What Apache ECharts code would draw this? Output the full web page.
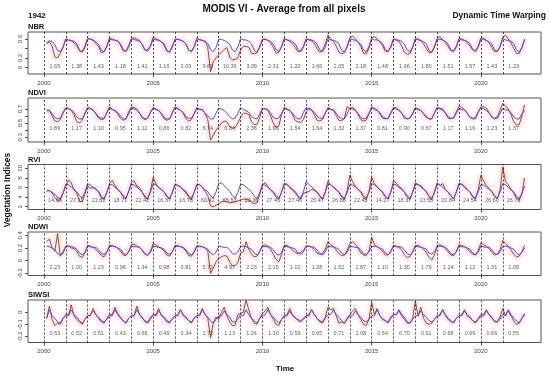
<!DOCTYPE html>
<html><head><meta charset="utf-8">
<script src="https://cdn.jsdelivr.net/npm/echarts@6/dist/echarts.min.js"></script>
<style>html,body{margin:0;padding:0;background:#fff}#c{width:550px;height:379px}</style>
</head><body><div id="c"></div>
<script>
// ---------- data ----------
const panelNames = ['NBR', 'NDVI', 'RVI', 'NDWI', 'SIWSI'];
const years = [2000,2001,2002,2003,2004,2005,2006,2007,2008,2009,2010,2011,2012,2013,2014,2015,2016,2017,2018,2019,2020,2021];
const xTickLabels = [2000, 2005, 2010, 2015, 2020];
// samples every 1/8 year, first at 2000.125
const T0 = 2000.125, STEP = 0.125;

const nbrRef = [
0.52,0.56,0.55,0.48,0.36,0.33,0.43,0.60, 0.58,0.57,0.55,0.50,0.37,0.32,0.42,0.61,
0.59,0.57,0.54,0.49,0.36,0.33,0.43,0.60, 0.58,0.58,0.55,0.50,0.38,0.33,0.42,0.61,
0.59,0.57,0.55,0.49,0.37,0.34,0.44,0.60, 0.58,0.57,0.54,0.50,0.36,0.32,0.42,0.60,
0.59,0.58,0.55,0.49,0.37,0.33,0.43,0.61, 0.58,0.57,0.55,0.50,0.38,0.33,0.42,0.60,
0.59,0.57,0.54,0.49,0.37,0.33,0.43,0.61, 0.58,0.58,0.55,0.50,0.36,0.32,0.42,0.60,
0.59,0.57,0.55,0.49,0.37,0.34,0.43,0.61, 0.58,0.57,0.54,0.50,0.38,0.33,0.42,0.60,
0.59,0.58,0.55,0.49,0.37,0.33,0.43,0.61, 0.58,0.57,0.55,0.50,0.36,0.32,0.42,0.60,
0.59,0.57,0.54,0.49,0.37,0.33,0.44,0.61, 0.58,0.58,0.55,0.50,0.38,0.34,0.42,0.60,
0.59,0.57,0.55,0.49,0.37,0.33,0.43,0.61, 0.58,0.57,0.54,0.50,0.36,0.32,0.42,0.60,
0.59,0.58,0.55,0.49,0.37,0.33,0.43,0.61, 0.58,0.57,0.55,0.50,0.38,0.33,0.42,0.60,
0.59,0.57,0.54,0.49,0.37,0.34,0.43,0.61, 0.58,0.57,0.55,0.50,0.37,0.33,0.42,0.58];
const nbrObs = [
0.50,0.54,0.45,0.22,0.20,0.30,0.42,0.60, 0.57,0.56,0.52,0.46,0.35,0.34,0.45,0.60,
0.60,0.58,0.50,0.44,0.31,0.33,0.45,0.62, 0.60,0.57,0.56,0.47,0.35,0.34,0.46,0.60,
0.63,0.60,0.57,0.48,0.36,0.38,0.46,0.64, 0.60,0.58,0.54,0.47,0.34,0.33,0.45,0.58,
0.60,0.57,0.55,0.50,0.36,0.35,0.44,0.61, 0.59,0.57,0.55,0.42,-0.09,0.12,0.20,0.27,
0.32,0.38,0.42,0.22,0.16,0.17,0.20,0.37, 0.45,0.44,0.43,0.30,0.29,0.31,0.45,0.58,
0.60,0.57,0.52,0.42,0.30,0.32,0.44,0.61, 0.58,0.55,0.50,0.42,0.33,0.35,0.45,0.60,
0.58,0.56,0.50,0.40,0.32,0.36,0.50,0.68, 0.60,0.55,0.45,0.32,0.29,0.31,0.45,0.62,
0.66,0.60,0.54,0.44,0.30,0.29,0.40,0.63, 0.65,0.60,0.54,0.46,0.34,0.33,0.45,0.60,
0.57,0.55,0.45,0.32,0.28,0.29,0.42,0.60, 0.60,0.56,0.50,0.40,0.31,0.32,0.45,0.61,
0.65,0.58,0.52,0.44,0.35,0.36,0.45,0.61, 0.60,0.57,0.52,0.45,0.37,0.36,0.45,0.62,
0.61,0.57,0.52,0.42,0.33,0.34,0.44,0.63, 0.68,0.60,0.52,0.40,0.30,0.29,0.42,0.60];
const nbrDist = [1.65,1.38,1.43,1.18,1.41,1.16,1.09,9.69,10.39,3.09,2.31,1.20,1.66,2.05,2.18,1.48,1.66,1.80,1.51,1.57,1.43,1.23];

const ndviRef = [
0.69,0.68,0.63,0.58,0.56,0.57,0.64,0.71, 0.70,0.69,0.65,0.59,0.56,0.56,0.63,0.71,
0.70,0.68,0.64,0.59,0.57,0.57,0.64,0.72, 0.69,0.68,0.65,0.60,0.56,0.56,0.63,0.71,
0.70,0.69,0.64,0.59,0.56,0.57,0.65,0.71, 0.69,0.68,0.64,0.58,0.56,0.56,0.64,0.72,
0.70,0.68,0.65,0.59,0.57,0.57,0.63,0.71, 0.69,0.69,0.64,0.60,0.56,0.56,0.64,0.71,
0.70,0.68,0.64,0.59,0.56,0.57,0.64,0.72, 0.69,0.68,0.65,0.59,0.57,0.56,0.63,0.71,
0.70,0.69,0.64,0.58,0.56,0.57,0.64,0.71, 0.69,0.68,0.64,0.59,0.56,0.56,0.65,0.72,
0.70,0.68,0.65,0.60,0.57,0.57,0.64,0.71, 0.69,0.69,0.64,0.59,0.56,0.56,0.63,0.71,
0.70,0.68,0.64,0.58,0.56,0.57,0.64,0.72, 0.69,0.68,0.65,0.59,0.57,0.56,0.64,0.71,
0.70,0.69,0.64,0.59,0.56,0.57,0.63,0.71, 0.69,0.68,0.64,0.60,0.56,0.56,0.64,0.72,
0.70,0.68,0.65,0.59,0.57,0.57,0.64,0.71, 0.69,0.69,0.64,0.58,0.56,0.56,0.65,0.72,
0.70,0.68,0.64,0.59,0.56,0.57,0.64,0.71, 0.69,0.68,0.65,0.59,0.56,0.56,0.63,0.68];
const ndviObs = [
0.67,0.68,0.60,0.53,0.52,0.55,0.65,0.72, 0.71,0.68,0.62,0.52,0.50,0.54,0.64,0.72,
0.71,0.69,0.63,0.57,0.55,0.56,0.65,0.73, 0.70,0.67,0.63,0.57,0.54,0.56,0.66,0.73,
0.72,0.70,0.64,0.57,0.55,0.57,0.66,0.72, 0.70,0.68,0.63,0.56,0.54,0.56,0.65,0.73,
0.71,0.68,0.64,0.56,0.53,0.55,0.64,0.72, 0.70,0.69,0.64,0.55,0.26,0.33,0.40,0.45,
0.50,0.53,0.52,0.45,0.43,0.44,0.50,0.58, 0.64,0.64,0.62,0.52,0.48,0.48,0.58,0.70,
0.71,0.68,0.60,0.50,0.44,0.46,0.62,0.72, 0.70,0.68,0.62,0.54,0.52,0.51,0.55,0.66,
0.71,0.69,0.62,0.54,0.53,0.55,0.64,0.72, 0.70,0.68,0.61,0.54,0.53,0.57,0.73,0.71,
0.72,0.69,0.62,0.55,0.53,0.54,0.63,0.73, 0.71,0.69,0.63,0.57,0.56,0.57,0.65,0.72,
0.72,0.68,0.64,0.57,0.56,0.57,0.64,0.72, 0.70,0.68,0.63,0.58,0.56,0.56,0.65,0.72,
0.71,0.70,0.64,0.57,0.56,0.58,0.66,0.74, 0.72,0.69,0.64,0.58,0.57,0.58,0.66,0.73,
0.73,0.71,0.65,0.58,0.57,0.59,0.68,0.78, 0.74,0.70,0.62,0.52,0.47,0.48,0.60,0.76];
const ndviDist = [0.89,1.17,1.10,0.95,1.12,0.86,0.82,6.74,6.04,2.36,1.96,1.54,1.64,1.32,1.37,0.81,0.90,0.67,1.17,1.16,1.23,1.37];

const rviRef = [
5.5,5.3,5.0,4.6,3.9,3.7,4.9,6.7, 6.6,6.1,5.6,5.1,4.3,3.8,5.0,6.8,
6.5,6.0,5.6,5.2,4.2,3.7,4.9,6.6, 6.6,6.1,5.5,5.1,4.3,3.8,5.1,6.7,
6.5,6.1,5.6,5.0,4.2,3.8,5.0,6.8, 6.6,6.0,5.5,5.1,4.3,3.7,4.9,6.6,
6.5,6.1,5.6,5.2,4.2,3.8,5.0,6.7, 6.6,6.1,5.5,5.1,4.3,3.8,5.1,6.8,
7.0,6.4,5.8,5.2,4.3,3.8,5.0,6.7, 6.6,6.1,5.6,5.1,4.2,3.7,4.9,6.6,
6.5,6.0,5.5,5.1,4.3,3.8,5.0,6.8, 6.6,6.1,5.6,5.2,4.2,3.8,5.1,7.2,
6.7,6.1,5.6,5.1,4.3,3.7,5.0,6.7, 6.6,6.0,5.5,5.1,4.2,3.8,4.9,6.6,
6.5,6.1,5.6,5.2,4.3,3.8,5.0,6.8, 6.6,6.1,5.5,5.1,4.2,3.7,5.1,6.7,
6.5,6.0,5.6,5.1,4.3,3.8,5.0,6.6, 6.6,6.1,5.6,5.2,4.2,3.8,4.9,6.8,
6.5,6.1,5.5,5.1,4.3,3.7,5.0,6.7, 6.6,6.0,5.6,5.1,4.2,3.8,5.1,6.6,
6.5,6.1,5.6,5.2,4.3,3.8,5.0,6.8, 6.6,6.1,5.5,5.1,4.2,3.7,4.8,6.3];
const rviObs = [
5.2,5.4,4.8,3.9,3.3,3.4,4.8,6.2, 7.6,7.0,5.5,4.8,3.2,3.0,4.6,6.4,
5.8,6.0,5.8,5.0,3.9,3.5,5.0,6.8, 7.5,6.4,5.7,5.0,4.0,3.6,5.2,7.0,
7.4,6.3,6.0,5.0,3.9,3.5,5.4,8.1, 6.8,6.0,5.6,5.0,4.1,3.6,5.0,6.6,
6.4,6.2,5.4,4.9,4.0,3.4,5.0,6.5, 6.6,6.0,5.2,4.3,2.2,2.0,2.3,2.6,
3.0,3.2,3.0,2.8,2.9,3.0,3.2,3.4, 3.6,3.5,3.4,3.0,2.6,2.8,4.5,6.6,
7.0,6.2,5.5,4.9,4.0,3.6,5.0,6.8, 6.7,6.0,5.4,4.9,4.1,3.6,4.8,5.0,
5.2,5.6,5.4,5.0,4.1,3.5,5.0,7.3, 6.5,6.2,5.6,5.0,4.0,3.5,5.3,8.6,
7.2,6.3,5.7,5.0,3.9,3.4,5.2,8.2, 6.8,6.2,5.6,4.9,4.0,3.6,5.0,7.4,
6.9,6.2,5.8,5.0,4.0,3.5,5.0,7.0, 6.6,6.4,5.7,5.1,4.1,3.4,5.2,7.0,
6.4,6.8,5.6,5.0,4.2,3.6,5.1,6.9, 6.7,6.3,5.6,5.0,4.0,3.6,5.6,8.6,
7.3,6.4,5.8,5.1,4.1,3.7,5.4,10.3, 7.2,6.6,5.6,4.8,3.8,3.3,4.6,8.0];
const rviDist = [14.66,27.11,21.82,18.71,22.42,16.37,16.76,60.42,65.53,23.36,27.45,27.46,25.47,26.86,22.41,14.27,18.37,13.55,20.84,24.54,26.60,26.71];

const ndwiRef = [
0.23,0.22,0.20,0.17,0.11,0.09,0.14,0.23, 0.22,0.22,0.21,0.18,0.12,0.09,0.13,0.23,
0.22,0.21,0.21,0.17,0.11,0.10,0.14,0.22, 0.23,0.22,0.20,0.18,0.12,0.09,0.14,0.23,
0.22,0.22,0.21,0.17,0.11,0.09,0.13,0.23, 0.22,0.21,0.20,0.18,0.12,0.10,0.14,0.22,
0.23,0.22,0.21,0.17,0.11,0.09,0.14,0.23, 0.22,0.22,0.20,0.18,0.12,0.09,0.13,0.23,
0.22,0.21,0.21,0.17,0.11,0.10,0.14,0.22, 0.23,0.22,0.20,0.18,0.12,0.09,0.14,0.23,
0.22,0.22,0.21,0.17,0.11,0.09,0.13,0.23, 0.22,0.21,0.20,0.18,0.12,0.10,0.14,0.22,
0.23,0.22,0.21,0.17,0.11,0.09,0.14,0.23, 0.22,0.22,0.20,0.18,0.12,0.09,0.13,0.23,
0.22,0.21,0.21,0.17,0.11,0.10,0.14,0.22, 0.23,0.22,0.20,0.18,0.12,0.09,0.14,0.23,
0.22,0.22,0.21,0.17,0.11,0.09,0.13,0.23, 0.22,0.21,0.20,0.18,0.12,0.10,0.14,0.22,
0.23,0.22,0.21,0.17,0.11,0.09,0.14,0.23, 0.22,0.22,0.20,0.18,0.12,0.09,0.13,0.23,
0.22,0.21,0.21,0.17,0.11,0.10,0.14,0.22, 0.23,0.22,0.20,0.18,0.12,0.09,0.13,0.20];
const ndwiObs = [
0.30,0.34,0.20,0.15,0.43,0.07,0.12,0.22, 0.24,0.20,0.19,0.15,0.07,0.05,0.12,0.24,
0.23,0.21,0.18,0.13,0.08,0.06,0.13,0.24, 0.24,0.22,0.20,0.15,0.09,0.08,0.14,0.25,
0.26,0.23,0.21,0.16,0.10,0.08,0.15,0.27, 0.25,0.22,0.20,0.15,0.09,0.07,0.14,0.24,
0.24,0.22,0.20,0.15,0.08,0.07,0.13,0.23, 0.23,0.22,0.20,0.15,-0.20,-0.12,-0.02,0.04,
0.06,0.08,0.07,-0.02,-0.08,-0.08,-0.03,0.12, 0.14,0.30,0.18,0.10,0.06,0.07,0.14,0.24,
0.25,0.23,0.18,0.10,0.02,-0.02,0.10,0.24, 0.24,0.21,0.17,0.13,0.11,0.13,0.16,0.23,
0.23,0.21,0.18,0.12,0.10,0.11,0.18,0.30, 0.25,0.22,0.17,0.11,0.08,0.09,0.16,0.27,
0.30,0.26,0.20,0.12,0.09,0.08,0.15,0.37, 0.25,0.22,0.19,0.14,0.09,0.09,0.15,0.24,
0.23,0.21,0.17,0.09,0.05,0.06,0.14,0.24, 0.24,0.22,0.18,0.13,0.05,0.01,0.09,0.24,
0.25,0.23,0.19,0.14,0.09,0.08,0.15,0.25, 0.24,0.22,0.19,0.14,0.10,0.09,0.16,0.28,
0.25,0.23,0.19,0.13,0.09,0.10,0.17,0.32, 0.27,0.23,0.17,0.10,0.06,0.07,0.14,0.24];
const ndwiDist = [2.23,1.00,1.23,0.96,1.34,0.98,0.81,5.72,4.97,2.23,2.15,1.02,1.28,1.52,1.87,1.10,1.30,1.79,1.14,1.12,1.31,1.05];

const siwsiRef = [
-0.05,0.02,-0.03,-0.05,-0.08,-0.09,-0.05,-0.03, -0.03,0.02,-0.02,-0.04,-0.07,-0.09,-0.06,-0.03,
-0.02,0.01,-0.02,-0.04,-0.07,-0.08,-0.06,-0.03, -0.03,0.02,-0.02,-0.05,-0.07,-0.09,-0.05,-0.03,
-0.03,0.02,-0.02,-0.04,-0.08,-0.09,-0.06,-0.02, -0.03,0.01,-0.02,-0.04,-0.07,-0.08,-0.06,-0.03,
-0.02,0.02,-0.03,-0.05,-0.07,-0.09,-0.05,-0.03, -0.03,0.02,-0.02,-0.04,-0.07,-0.09,-0.06,-0.03,
-0.03,0.01,-0.02,-0.04,-0.08,-0.08,-0.06,-0.02, -0.03,0.02,-0.02,-0.05,-0.07,-0.09,-0.05,-0.03,
-0.02,0.02,-0.02,-0.04,-0.07,-0.09,-0.06,-0.03, -0.03,0.01,-0.03,-0.04,-0.07,-0.08,-0.06,-0.03,
-0.03,0.02,-0.02,-0.05,-0.08,-0.09,-0.05,-0.02, -0.02,0.02,-0.02,-0.04,-0.07,-0.09,-0.06,-0.03,
-0.03,0.01,-0.02,-0.04,-0.07,-0.08,-0.06,-0.03, -0.03,0.02,-0.03,-0.05,-0.07,-0.09,-0.05,-0.02,
-0.02,0.02,-0.02,-0.04,-0.08,-0.09,-0.06,-0.03, -0.03,0.01,-0.02,-0.04,-0.07,-0.08,-0.06,-0.03,
-0.03,0.02,-0.02,-0.05,-0.07,-0.09,-0.05,-0.03, -0.02,0.02,-0.03,-0.04,-0.07,-0.09,-0.06,-0.03,
-0.03,0.01,-0.02,-0.04,-0.08,-0.08,-0.06,-0.02, -0.03,0.02,-0.02,-0.05,-0.07,-0.09,-0.05,-0.02];
const siwsiObs = [
-0.05,0.05,-0.06,-0.11,-0.09,-0.10,-0.05,-0.02, -0.02,0.06,-0.03,-0.06,-0.08,-0.10,-0.06,-0.03,
-0.03,0.03,-0.02,-0.05,-0.08,-0.09,-0.05,-0.02, -0.02,0.04,-0.01,-0.04,-0.07,-0.09,-0.05,-0.03,
-0.03,0.05,-0.02,-0.05,-0.07,-0.08,-0.04,-0.02, -0.02,0.03,-0.03,-0.05,-0.08,-0.09,-0.05,-0.03,
-0.03,0.02,-0.02,-0.04,-0.07,-0.08,-0.05,-0.03, -0.02,0.03,-0.02,-0.05,-0.21,-0.09,-0.04,-0.06,
0.00,0.04,-0.03,-0.08,-0.11,-0.11,-0.02,-0.01, 0.00,0.10,0.02,-0.05,-0.09,-0.10,-0.05,-0.01,
0.01,0.04,-0.02,-0.06,-0.10,-0.11,-0.06,-0.03, -0.02,0.03,-0.02,-0.05,-0.06,-0.07,-0.05,-0.03,
-0.02,0.02,-0.02,-0.05,-0.07,-0.08,-0.04,0.04, 0.02,0.03,-0.03,-0.09,-0.08,-0.09,-0.05,-0.02,
0.01,0.03,-0.02,-0.06,-0.10,-0.11,-0.06,0.08, -0.02,0.03,-0.03,-0.06,-0.07,-0.08,-0.04,-0.02,
-0.02,0.01,-0.03,-0.06,-0.09,-0.09,-0.05,0.09, -0.03,0.04,-0.05,-0.09,-0.10,-0.09,-0.06,-0.03,
-0.02,0.02,-0.03,-0.06,-0.08,-0.08,-0.05,-0.03, -0.03,0.01,-0.02,-0.05,-0.07,-0.08,-0.05,-0.02,
-0.02,0.02,-0.02,-0.05,-0.07,-0.08,-0.04,0.03, -0.03,0.01,-0.03,-0.07,-0.10,-0.09,-0.05,-0.01];
const siwsiDist = [0.53,0.52,0.51,0.43,0.66,0.49,0.34,1.72,1.13,1.24,1.30,0.59,0.65,0.71,1.08,0.54,0.70,0.91,0.68,0.69,0.66,0.55];

const nbrTicks = [0, 0.2, 0.4, 0.6],      nbrTickLabels = [0, 0.2, 0.6];
const ndviTicks = [0.3, 0.4, 0.5, 0.6, 0.7], ndviTickLabels = [0.3, 0.5, 0.7];
const rviTicks = [2, 4, 6, 8, 10],        rviTickLabels = [2, 4, 6, 8, 10];
const ndwiTicks = [-0.2, 0, 0.2, 0.4],    ndwiTickLabels = [-0.2, 0, 0.2, 0.4];
const siwsiTicks = [-0.2, -0.1, 0],       siwsiTickLabels = [-0.2, -0.1, 0];

// ---------- layout / style ----------
const FONT = '"Liberation Sans", Arial, sans-serif';
const panels = [
  {ref: nbrRef,   obs: nbrObs,   dist: nbrDist,   ticks: nbrTicks,   tl: nbrTickLabels,   top: 32,  h: 42, min: -0.137, max: 0.747, labY: 0.02},
  {ref: ndviRef,  obs: ndviObs,  dist: ndviDist,  ticks: ndviTicks,  tl: ndviTickLabels,  top: 98,  h: 44, min: 0.234,  max: 0.855, labY: 0.43},
  {ref: rviRef,   obs: rviObs,   dist: rviDist,   ticks: rviTicks,   tl: rviTickLabels,   top: 164.5, h: 45, min: 1.42, max: 10.79, labY: 3.4},
  {ref: ndwiRef,  obs: ndwiObs,  dist: ndwiDist,  ticks: ndwiTicks,  tl: ndwiTickLabels,  top: 232, h: 43.5, min: -0.235, max: 0.453, labY: -0.107},
  {ref: siwsiRef, obs: siwsiObs, dist: siwsiDist, ticks: siwsiTicks, tl: siwsiTickLabels, top: 300, h: 42.5, min: -0.249, max: 0.1, labY: -0.172}
];
const XMIN = 1999.27, XMAX = 2022.75;
const toPairs = arr => arr.map((v, i) => [T0 + i * STEP, v]);

const grid = [], xAxis = [], yAxis = [], series = [], graphic = [];
panels.forEach((p, k) => {
  grid.push({left: 28, right: 9, top: p.top, height: p.h, show: true, borderColor: '#555', borderWidth: 1, backgroundColor: 'transparent'});
  xAxis.push({type: 'value', gridIndex: k, min: XMIN, max: XMAX,
    axisLine: {show: false, onZero: false}, splitLine: {show: false},
    axisTick: {show: true, length: 3, customValues: xTickLabels, lineStyle: {color: '#555'}},
    axisLabel: {show: true, customValues: xTickLabels, fontSize: 6, color: '#444', margin: 6, fontFamily: FONT, formatter: v => String(v)}});
  yAxis.push({type: 'value', gridIndex: k, min: p.min, max: p.max,
    axisLine: {show: false, onZero: false}, splitLine: {show: false},
    axisTick: {show: true, length: 3, customValues: p.ticks, lineStyle: {color: '#555'}},
    axisLabel: {show: true, customValues: p.tl, rotate: 90, fontSize: 6, color: '#444', margin: 5, fontFamily: FONT, formatter: v => String(v)}});
  series.push({type: 'line', xAxisIndex: k, yAxisIndex: k, data: toPairs(p.obs), showSymbol: false, silent: true, z: 1,
    lineStyle: {color: 'rgba(255,170,200,0.25)', width: 7}});
  series.push({type: 'line', xAxisIndex: k, yAxisIndex: k, data: toPairs(p.obs), showSymbol: false, silent: true, z: 3,
    lineStyle: {color: '#93501f', width: 1}});
  series.push({type: 'line', xAxisIndex: k, yAxisIndex: k, data: toPairs(p.ref), showSymbol: false, silent: true, z: 4,
    lineStyle: {color: '#5a46e6', width: 1},
    markLine: {silent: true, symbol: 'none', animation: false, label: {show: false},
      lineStyle: {color: '#222', type: [2, 2], width: 0.8},
      data: years.map(y => ({xAxis: y}))}});
  series.push({type: 'scatter', xAxisIndex: k, yAxisIndex: k, silent: true, z: 5, symbolSize: 1,
    itemStyle: {color: 'rgba(0,0,0,0)'},
    data: years.map((y, i) => [y + 0.5, p.labY, p.dist[i]]),
    label: {show: true, position: 'inside', formatter: q => q.value[2].toFixed(2), fontSize: 5.5, color: '#333', fontFamily: FONT}});
  graphic.push({type: 'text', left: 28, top: p.top - 9, style: {text: panelNames[k], font: 'bold 7.5px ' + FONT, fill: '#111'}});
});

graphic.push({type: 'text', x: 284, y: 9, style: {text: 'MODIS VI - Average from all pixels', font: 'bold 10px ' + FONT, fill: '#111', align: 'center', verticalAlign: 'middle'}});
graphic.push({type: 'text', x: 28, y: 16, style: {text: '1942', font: 'bold 8px ' + FONT, fill: '#111', align: 'left', verticalAlign: 'middle'}});
graphic.push({type: 'text', x: 546, y: 16, style: {text: 'Dynamic Time Warping', font: 'bold 8.5px ' + FONT, fill: '#111', align: 'right', verticalAlign: 'middle'}});
graphic.push({type: 'text', x: 285, y: 369, style: {text: 'Time', font: 'bold 8px ' + FONT, fill: '#111', align: 'center', verticalAlign: 'middle'}});
graphic.push({type: 'text', x: 8, y: 190, rotation: Math.PI / 2, style: {text: 'Vegetation Indices', font: 'bold 8.5px ' + FONT, fill: '#111', align: 'center', verticalAlign: 'middle'}});

const chart = echarts.init(document.getElementById('c'), null, {renderer: 'canvas'});
chart.setOption({animation: false, backgroundColor: '#fff', textStyle: {fontFamily: FONT}, grid, xAxis, yAxis, series, graphic});
</script></body></html>
